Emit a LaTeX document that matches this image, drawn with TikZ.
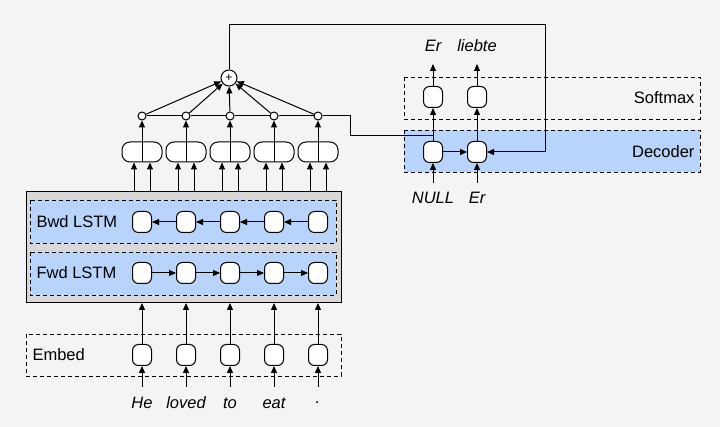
\documentclass[tikz,border=0pt]{standalone}
\usepackage{fontspec}
\setmainfont{Liberation Sans}
\usetikzlibrary{arrows.meta}
\definecolor{bg}{HTML}{F4F4F4}
\definecolor{lblue}{HTML}{B8D4FA}
\definecolor{gbox}{HTML}{D8D8D8}
\begin{document}
\begin{tikzpicture}[x=1pt,y=-1pt,
  cell/.style={draw,fill=white,rounded corners=6pt,minimum width=19pt,minimum height=21pt,inner sep=0pt,line width=1pt},
  bcell/.style={draw,fill=white,rounded corners=8pt,minimum width=40pt,minimum height=20pt,inner sep=0pt,line width=1pt},
  dot/.style={draw,fill=white,circle,minimum size=8pt,inner sep=0pt,line width=1pt},
  arr/.style={-{Triangle[length=7pt,width=6pt]},line width=1pt},
  dbox/.style={draw,dashed,line width=0.9pt,dash pattern=on 4pt off 3pt},
  lbl/.style={font=\fontsize{16.5}{18}\selectfont},
  word/.style={font=\fontsize{16.5}{18}\selectfont\itshape}]
\fill[bg] (0,0) rectangle (720,427);
\useasboundingbox (0,0) rectangle (720,427);
% boxes
\draw[fill=gbox,line width=1pt] (26,192) rectangle (341,303);
\draw[dbox,fill=lblue] (30,200) rectangle (336,243);
\draw[dbox,fill=lblue] (30,252) rectangle (336,295);
\draw[dbox] (26,334) rectangle (341,376);
\draw[dbox] (404,77) rectangle (700,119);
\draw[dbox,fill=lblue] (404,130) rectangle (700,172);
\node[lbl,anchor=west] (lb) at (33,222) {Bwd LSTM};
\node[lbl,anchor=west] (lf) at (33,273) {Fwd LSTM};
\node[lbl,anchor=west] (le) at (29,355) {Embed};
\node[lbl,anchor=east] (ls) at (698,98) {Softmax};
\node[lbl,anchor=east] (ld) at (698,152) {Decoder};
% plus
\node[draw,fill=white,circle,minimum size=16pt,inner sep=0pt,line width=1pt] (plus) at (229,78) {\fontsize{12}{12}\selectfont +};
\foreach \i/\x/\w in {1/142/He,2/186/loved,3/230/to,4/274/eat,5/318/.}{
  \node[cell] (b\i) at (\x,222) {};
  \node[cell] (f\i) at (\x,273) {};
  \node[cell] (e\i) at (\x,355) {};
  \node[word] (w\i) at (\x,403) {\w};
  \node[bcell] (c\i) at (\x,152) {};
  \draw[line width=1pt] (c\i.north) -- (c\i.south);
  \node[dot] (d\i) at (\x,116) {};
  \coordinate (wt\i) at (\x,387);
  \coordinate (gt\i) at (\x,303);
  \coordinate (ga\i) at (\x-8,192);
  \coordinate (gb\i) at (\x+8,192);
  \draw[arr] (wt\i) -- (e\i);
  \draw[arr] (e\i) -- (gt\i);
  \draw[arr] (ga\i) -- (ga\i|-c\i.south);
  \draw[arr] (gb\i) -- (gb\i|-c\i.south);
  \draw[arr] (c\i.center) -- (d\i);
  \draw[arr] (d\i) -- (plus);
}
\foreach \i/\j in {1/2,2/3,3/4,4/5}{
  \draw[arr] (f\i) -- (f\j);
  \draw[arr] (b\j) -- (b\i);
}
\draw[line width=1pt] (d1) -- (d2) -- (d3) -- (d4) -- (d5);
% decoder
\node[cell] (x1) at (433,152) {};
\node[cell] (x2) at (477,152) {};
\node[cell] (s1) at (433,97) {};
\node[cell] (s2) at (477,97) {};
\node[word] (o1) at (433,46) {Er};
\node[word] (o2) at (477,46) {liebte};
\node[word] (i1) at (433,198) {NULL};
\node[word] (i2) at (477,198) {Er};
\coordinate (it1) at (433,183);
\coordinate (it2) at (477,183);
\coordinate (ot1) at (433,64);
\coordinate (ot2) at (477,64);
\draw[arr] (it1) -- (x1);
\draw[arr] (it2) -- (x2);
\draw[arr] (x1) -- (x2);
\draw[arr] (x1) -- (s1);
\draw[arr] (x2) -- (s2);
\draw[arr] (s1) -- (ot1);
\draw[arr] (s2) -- (ot2);
\coordinate (j) at (433,136);
\draw[line width=1pt] (d5) -- (350,116) -- (350,136) -- (j);
\draw[arr] (plus) -- (229,25) -- (545,25) -- (545,152) -- (x2);
\end{tikzpicture}
\end{document}
